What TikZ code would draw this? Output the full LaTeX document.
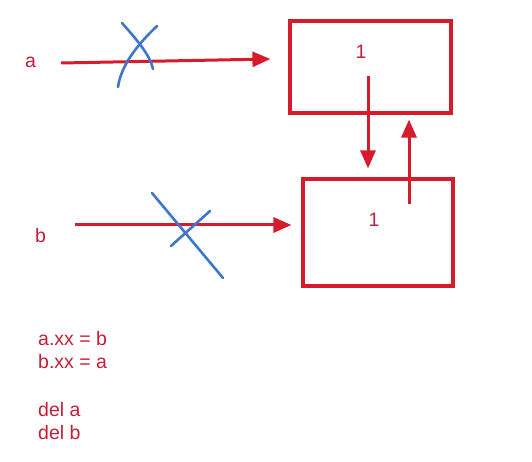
\documentclass[tikz,border=0pt]{standalone}
\usepackage{fontspec}
\setmainfont{Liberation Sans}
\usepackage{tikz}
\usetikzlibrary{arrows.meta,positioning}
\definecolor{memred}{RGB}{214,28,44}
\definecolor{txtred}{RGB}{196,30,58}
\definecolor{crossblue}{RGB}{62,118,204}

\begin{document}
\begin{tikzpicture}[x=1pt, y=-1pt, font=\fontsize{19.5}{23}\selectfont,
  >={Triangle[length=18pt,width=15pt]},
  obj/.style={draw=memred, line width=3.2pt, inner sep=0pt},
  ref/.style={->, draw=memred, line width=3pt},
  txt/.style={text=txtred, anchor=base west, inner sep=0pt},
  cross/.style={draw=crossblue, line width=2.6pt, line cap=round}]
  \useasboundingbox (0,0) rectangle (532,462);

  % the two objects
  \node[obj, minimum width=161pt, minimum height=92pt] (objA) at (370.5,67) {};
  \node[obj, minimum width=150pt, minimum height=107pt] (objB) at (378,232.5) {};
  \node[txt, anchor=base] (cntA) at (361,59) {1};
  \node[txt, anchor=base] (cntB) at (374,226) {1};

  % names
  \node[txt] (nameA) at (25,68) {a};
  \node[txt] (nameB) at (35,242) {b};

  % references
  \coordinate (astart) at (61,63);
  \coordinate (atip) at ([xshift=-18pt,yshift=8pt]objA.west);
  \draw[ref] (astart) -- (atip);
  \coordinate (bstart) at (75,225);
  \draw[ref, shorten >=10pt] (bstart) -- (bstart -| objB.west);
  \coordinate (dstart) at (368,76);
  \draw[ref, shorten >=9pt] (dstart) -- (dstart |- objB.north);
  \coordinate (ustart) at (409,204);
  \draw[ref, shorten >=5pt] (ustart) -- (ustart |- objA.south);

  % crossed out
  \draw[cross] (122,23) .. controls (137,40) and (150,55) .. (153,69);
  \draw[cross] (157,26) .. controls (136,46) and (121,66) .. (118,87);
  \draw[cross] (152,193) -- (223,278);
  \draw[cross] (210,211) -- (171,246);

  % code
  \node[txt] (line1) at (38,345) {a.xx = b};
  \node[txt] (line2) at (38,368) {b.xx = a};
  \node[txt] (line3) at (38,416) {del a};
  \node[txt] (line4) at (38,439) {del b};
\end{tikzpicture}
\end{document}
